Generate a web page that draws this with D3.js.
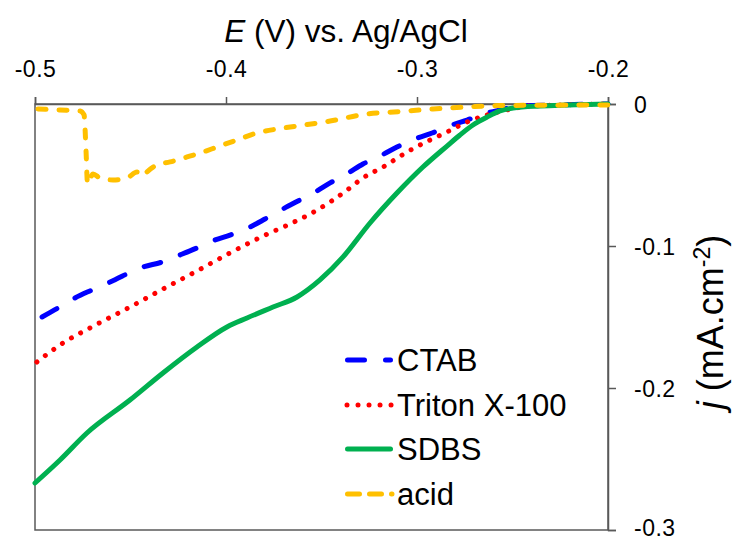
<!DOCTYPE html>
<html><head><meta charset="utf-8">
<script src="https://cdn.jsdelivr.net/npm/d3@7"></script>
<style>body{margin:0;background:#fff}</style>
</head><body>
<script>
// Data (E in V vs Ag/AgCl, j in mA.cm-2)
const seriesNames = ["CTAB", "Triton X-100", "SDBS", "acid"];
const ctabE = [-0.4963,-0.4880,-0.4791,-0.4702,-0.4607,-0.4435,-0.4335,-0.4241,-0.4152,-0.4058,-0.3979,-0.3874,-0.3796,-0.3702,-0.3623,-0.3534,-0.3455,-0.3361,-0.3283,-0.3183,-0.3105,-0.3010,-0.2921,-0.2817,-0.2738,-0.2633,-0.2565,-0.2461,-0.2304,-0.2];
const ctabJ = [-0.1500,-0.1437,-0.1366,-0.1310,-0.1254,-0.1148,-0.1113,-0.1063,-0.1014,-0.0958,-0.0923,-0.0866,-0.0810,-0.0739,-0.0683,-0.0620,-0.0556,-0.0486,-0.0423,-0.0359,-0.0303,-0.0246,-0.0204,-0.0148,-0.0113,-0.0063,-0.0042,-0.0014,-0.0007,0];
const tritonE = [-0.4990,-0.4853,-0.4712,-0.4503,-0.4330,-0.4152,-0.3979,-0.3806,-0.3665,-0.3560,-0.3455,-0.3366,-0.3283,-0.3178,-0.3052,-0.2932,-0.2843,-0.2738,-0.2633,-0.2529,-0.2408,-0.2251,-0.2];
const tritonJ = [-0.1817,-0.1683,-0.1577,-0.1430,-0.1303,-0.1176,-0.1049,-0.0930,-0.0845,-0.0775,-0.0690,-0.0606,-0.0521,-0.0444,-0.0338,-0.0254,-0.0197,-0.0127,-0.0077,-0.0042,-0.0014,-0.0007,0];
const sdbsE = [-0.5,-0.4869,-0.4728,-0.4503,-0.4330,-0.4152,-0.3995,-0.3890,-0.3754,-0.3628,-0.3508,-0.3387,-0.3246,-0.3105,-0.2969,-0.2843,-0.2775,-0.2707,-0.2633,-0.2565,-0.2497,-0.2356,-0.2215,-0.2];
const sdbsJ = [-0.2669,-0.2507,-0.2317,-0.2085,-0.1894,-0.1711,-0.1570,-0.1507,-0.1430,-0.1359,-0.1239,-0.1077,-0.0838,-0.0627,-0.0444,-0.0296,-0.0218,-0.0148,-0.0092,-0.0049,-0.0028,-0.0014,-0.0007,0];
const acidE = [-0.4984,-0.4869,-0.4764,-0.4743,-0.4733,-0.4725,-0.4696,-0.4660,-0.4592,-0.4518,-0.4466,-0.4435,-0.4414,-0.4361,-0.4293,-0.4204,-0.4120,-0.4047,-0.3942,-0.3838,-0.3733,-0.3628,-0.3455,-0.3262,-0.3089,-0.2916,-0.2738,-0.2565,-0.2];
const acidJ = [-0.0035,-0.0042,-0.0049,-0.0077,-0.0324,-0.0563,-0.0493,-0.0521,-0.0535,-0.0521,-0.0479,-0.0507,-0.0479,-0.0429,-0.0408,-0.0373,-0.0338,-0.0303,-0.0253,-0.0204,-0.0176,-0.0155,-0.0120,-0.0070,-0.0053,-0.0035,-0.0021,-0.0011,-0.0007];
const xTicks = [-0.5,-0.4,-0.3,-0.2];
const xTickLabels = ["-0.5","-0.4","-0.3","-0.2"];
const yTicks = [0,-0.1,-0.2,-0.3];
const yTickLabels = ["0","-0.1","-0.2","-0.3"];

const W = 732, H = 541;
const x = d3.scaleLinear().domain([-0.5,-0.2]).range([35,608]);
const y = d3.scaleLinear().domain([0,-0.3]).range([104,530]);

const svg = d3.select("body").append("svg").attr("width",W).attr("height",H);
const axisColor = "#595959";
const FONT = "Liberation Sans, Arial, sans-serif";

// frame
svg.append("rect").attr("x",35).attr("y",104).attr("width",573).attr("height",426)
  .attr("fill","none").attr("stroke",axisColor).attr("stroke-width",1.5);

// top axis
const xAxis = d3.axisTop(x).tickValues(xTicks).tickSize(7).tickFormat((d,i)=>xTickLabels[i]);
const gx = svg.append("g").attr("transform","translate(0,104)").call(xAxis);
gx.select(".domain").attr("stroke",axisColor).attr("stroke-width",1.5);
gx.selectAll(".tick line").attr("stroke",axisColor).attr("stroke-width",1.5);
gx.selectAll(".tick text").attr("font-family",FONT).attr("font-size",23).attr("letter-spacing",0.5)
  .attr("fill","#000").attr("y",-27).attr("dy",0);

// right axis
const yAxis = d3.axisRight(y).tickValues(yTicks).tickSize(8).tickFormat((d,i)=>yTickLabels[i]);
const gy = svg.append("g").attr("transform","translate(608,0)").call(yAxis);
gy.select(".domain").attr("stroke",axisColor).attr("stroke-width",1.5);
gy.selectAll(".tick line").attr("stroke",axisColor).attr("stroke-width",1.5);
gy.selectAll(".tick text").attr("font-family",FONT).attr("font-size",23).attr("letter-spacing",0.5)
  .attr("fill","#000").attr("x",26).attr("dy","0.35em").attr("text-anchor","start")
  .attr("y",(d,i)=> i===yTicks.length-1 ? -3 : 0);

// titles
const t = svg.append("text").attr("x",346).attr("y",42).attr("text-anchor","middle")
  .attr("font-family",FONT).attr("font-size",31.5).attr("fill","#000");
t.append("tspan").attr("font-style","italic").text("E");
t.append("tspan").text(" (V) vs. Ag/AgCl");

const yl = svg.append("text").attr("transform","translate(723,322) rotate(-90)").attr("text-anchor","middle")
  .attr("font-family",FONT).attr("font-size",36).attr("fill","#000");
yl.append("tspan").attr("font-style","italic").text("j");
yl.append("tspan").text(" (mA.cm");
yl.append("tspan").attr("font-size",23).attr("dy",-13).text("-2");
yl.append("tspan").attr("dy",13).text(")");

// series
const series = [
  {name:seriesNames[0], E:ctabE, J:ctabJ, color:"#0000FF", dash:"17,21", w:5},
  {name:seriesNames[1], E:tritonE, J:tritonJ, color:"#FF0000", dash:"0.01,10.5", w:5},
  {name:seriesNames[2], E:sdbsE, J:sdbsJ, color:"#00B050", dash:null, w:5},
  {name:seriesNames[3], E:acidE, J:acidJ, color:"#FFC000", dash:"8,13", w:5}
];
const line = d3.line().x(d=>x(d[0])).y(d=>y(d[1])).curve(d3.curveMonotoneX);
series.forEach(s=>{
  const pts = s.E.map((e,k)=>[e,s.J[k]]);
  const p = svg.append("path").attr("d",line(pts)).attr("fill","none")
    .attr("stroke",s.color).attr("stroke-width",s.w).attr("stroke-linecap","round").attr("stroke-linejoin","round");
  if(s.dash) p.attr("stroke-dasharray",s.dash);
});

// legend
const legY = [360,405,449,494];
const legDash = ["17,21","0.01,11","none","12,10"];
const legX1 = [347.5,347,347.5,347.5], legX2 = [390.5,392,390.5,392];
series.forEach((s,i)=>{
  const l = svg.append("line").attr("x1",legX1[i]).attr("x2",legX2[i]).attr("y1",legY[i]).attr("y2",legY[i])
    .attr("stroke",s.color).attr("stroke-width",5).attr("stroke-linecap","round");
  if(legDash[i]!=="none") l.attr("stroke-dasharray",legDash[i]);
  svg.append("text").attr("x",397).attr("y",legY[i]).attr("dy","0.36em")
    .attr("font-family",FONT).attr("font-size",31).attr("fill","#000").text(s.name);
});
</script>
</body></html>
